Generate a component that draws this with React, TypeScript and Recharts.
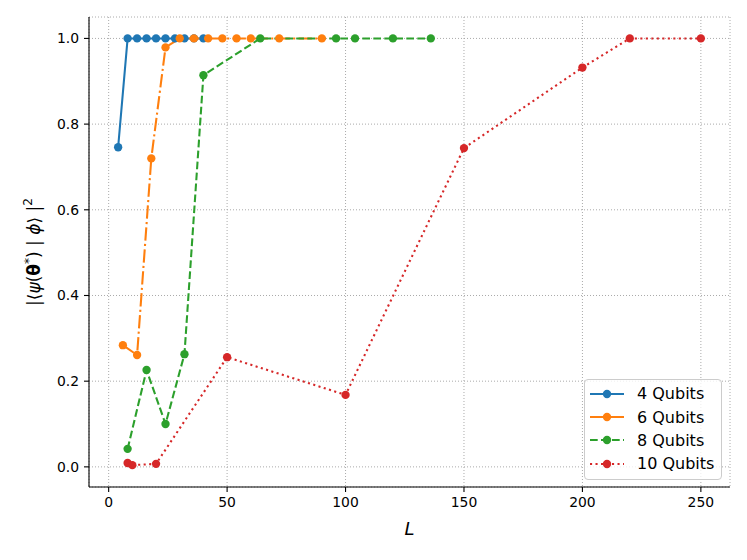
import { LineChart, Line, XAxis, YAxis, CartesianGrid, Legend } from "recharts";

const FONT = "DejaVu Sans";

// L values (x) and fidelity (y) per qubit count
const q4L = [4, 8, 12, 16, 20, 24, 28, 32, 36, 40];
const q4F = [0.746, 1, 1, 1, 1, 1, 1, 1, 1, 1];

const q6L = [6, 12, 18, 24, 30, 36, 42, 48, 54, 60, 72, 90];
const q6F = [0.284, 0.261, 0.72, 0.979, 1, 1, 1, 1, 1, 1, 1, 1];

const q8L = [8, 16, 24, 32, 40, 64, 96, 104, 120, 136];
const q8F = [0.042, 0.226, 0.1, 0.263, 0.914, 1, 1, 1, 1, 1];

const q10L = [8, 10, 20, 50, 100, 150, 200, 220, 250];
const q10F = [0.009, 0.004, 0.007, 0.256, 0.168, 0.744, 0.932, 1, 1];

const xTicks = [0, 50, 100, 150, 200, 250];
const yTicks = [0, 0.2, 0.4, 0.6, 0.8, 1.0];

const toPoints = (ls: number[], fs: number[]) => ls.map((L, i) => ({ L, F: fs[i] }));

const series = [
  { name: "4 Qubits", color: "#1f77b4", dash: undefined, legendDash: undefined, data: toPoints(q4L, q4F) },
  { name: "6 Qubits", color: "#ff7f0e", dash: "13.3 3.3 2.1 3.3", legendDash: undefined, data: toPoints(q6L, q6F) },
  { name: "8 Qubits", color: "#2ca02c", dash: "7.7 3.3", legendDash: "7.7 3.3", data: toPoints(q8L, q8F) },
  { name: "10 Qubits", color: "#d62728", dash: "2.1 3.4", legendDash: "2.1 3.4", data: toPoints(q10L, q10F) },
];

const LegendBox = () => (
  <div
    style={{
      background: "rgba(255,255,255,0.8)",
      border: "1px solid #cccccc",
      borderRadius: 4,
      padding: "2px 4px 3px 5px",
      fontFamily: FONT,
      fontSize: 16,
      color: "#000",
      boxSizing: "border-box",
      width: 138,
    }}
  >
    {series.map((s) => (
      <div key={s.name} style={{ display: "flex", alignItems: "center", height: 23.4, whiteSpace: "nowrap" }}>
        <svg width={34} height={10} style={{ flex: "none" }}>
          <line x1={0} y1={5} x2={34} y2={5} stroke={s.color} strokeWidth={2.08} strokeDasharray={s.legendDash} />
          <circle cx={17} cy={5} r={4.17} fill={s.color} />
        </svg>
        <span style={{ marginLeft: 13 }}>{s.name}</span>
      </div>
    ))}
  </div>
);

const YLabel = (props: any) => {
  const vb = props.viewBox || {};
  const cy = (vb.y ?? 17) + (vb.height ?? 470) / 2;
  const cx = 40;
  return (
    <text
      x={cx}
      y={cy}
      transform={`rotate(-90, ${cx}, ${cy})`}
      textAnchor="middle"
      fontFamily={FONT}
      fontSize={17}
      fill="#000"
    >
      <tspan>|</tspan>
      <tspan>⟨</tspan>
      <tspan fontStyle="italic">ψ</tspan>
      <tspan>(</tspan>
      <tspan fontWeight="bold">θ</tspan>
      <tspan fontSize={12} dy={-7}>*</tspan>
      <tspan dy={7}>)</tspan>
      <tspan> | </tspan>
      <tspan fontStyle="italic">ϕ</tspan>
      <tspan>⟩</tspan>
      <tspan> |</tspan>
      <tspan fontSize={12} dy={-8}>2</tspan>
    </text>
  );
};

const XLabel = (props: any) => {
  const vb = props.viewBox || {};
  const cx = (vb.x ?? 89) + (vb.width ?? 641) / 2;
  return (
    <text x={cx} y={535} textAnchor="middle" fontFamily={FONT} fontSize={18} fontStyle="italic" fill="#000">
      L
    </text>
  );
};

export default function App() {
  const tickStyle = { fill: "#000", fontSize: 13.9, fontFamily: FONT };
  return (
    <div style={{ position: "absolute", left: 0, top: 0, background: "#fff" }}>
      <LineChart width={747} height={560} margin={{ top: 17, right: 17, bottom: 0, left: 29 }}>
        <CartesianGrid stroke="#a0a0a0" strokeWidth={0.9} strokeDasharray="1 2" />
        <XAxis
          type="number"
          dataKey="L"
          domain={[-8.3, 262.3]}
          ticks={xTicks}
          allowDataOverflow
          height={73}
          tick={tickStyle}
          tickSize={5}
          tickMargin={5}
          stroke="#000"
          axisLine={{ stroke: "#000", strokeWidth: 1.1 }}
          tickLine={{ stroke: "#000", strokeWidth: 1.1 }}
          label={{ content: XLabel }}
        />
        <YAxis
          type="number"
          dataKey="F"
          domain={[-0.047, 1.05]}
          ticks={yTicks}
          allowDataOverflow
          width={60}
          tick={tickStyle}
          tickSize={5}
          tickMargin={5}
          tickFormatter={(v: number) => v.toFixed(1)}
          axisLine={{ stroke: "#000", strokeWidth: 1.1 }}
          tickLine={{ stroke: "#000", strokeWidth: 1.1 }}
          label={{ content: YLabel }}
        />
        <Legend
          layout="vertical"
          align="center"
          verticalAlign="middle"
          content={<LegendBox />}
          wrapperStyle={{ left: 584, top: 379, width: 138 }}
        />
        {series.map((s) => (
          <Line
            key={s.name}
            name={s.name}
            data={s.data}
            dataKey="F"
            type="linear"
            stroke={s.color}
            strokeWidth={2.08}
            strokeDasharray={s.dash}
            dot={{ r: 4.17, fill: s.color, stroke: s.color, strokeWidth: 0, strokeDasharray: "0" }}
            activeDot={false}
            isAnimationActive={false}
          />
        ))}
      </LineChart>
    </div>
  );
}
